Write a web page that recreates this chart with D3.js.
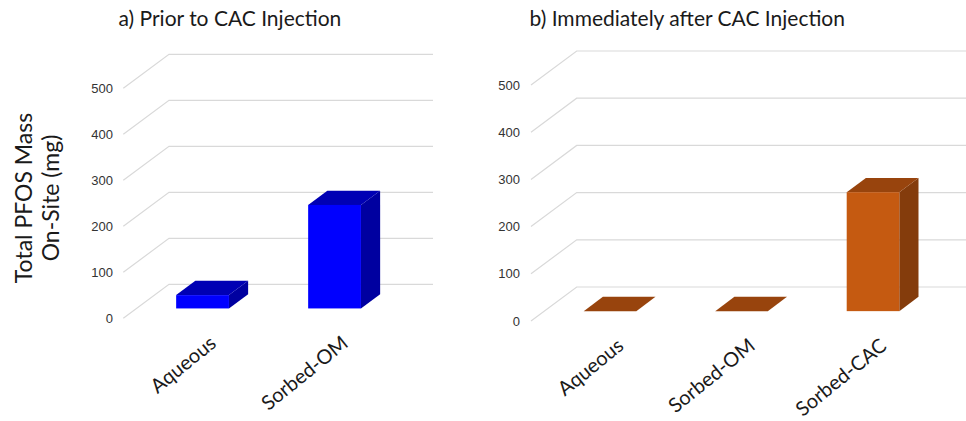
<!DOCTYPE html>
<html>
<head>
<meta charset="utf-8">
<script src="https://cdn.jsdelivr.net/npm/d3@7"></script>
<style>
  html, body { margin: 0; padding: 0; background: #fff; }
  svg { display: block; }
  .title { font-family: Lato, "Open Sans", sans-serif; fill: #1a1a1a; }
  .tick text { font-family: "Liberation Sans", Arial, sans-serif; fill: #333; }
  .cat { font-family: Lato, "Open Sans", sans-serif; fill: #1a1a1a; }
</style>
</head>
<body>
<svg id="chart" width="966" height="421"></svg>
<script>
// Total PFOS mass on site (mg), before and right after the CAC injection
const categoriesA = ["Aqueous", "Sorbed-OM"];
const valuesA = [29, 225];
const titleA = "a) Prior to CAC Injection";

const categoriesB = ["Aqueous", "Sorbed-OM", "Sorbed-CAC"];
const valuesB = [0, 0, 252];
const titleB = "b) Immediately after CAC Injection";

const yTicks = [0, 100, 200, 300, 400, 500];
const yTitleLines = ["Total PFOS Mass", "On-Site (mg)"];

const svg = d3.select("#chart");

// Perspective offset of the floor (front edge -> back wall)
const depth = { dx: 45.7, dy: -34 };
// Bars sit in the middle of the floor depth
const barDepth = [0.29, 0.71];

function panel(cfg) {
  const g = svg.append("g");
  const x = d3.scaleBand()
    .domain(cfg.categories)
    .range([0, cfg.width])
    .paddingInner(0.6)
    .paddingOuter(0.3);
  const y = d3.scaleLinear().domain([0, 500]).range([cfg.y0, cfg.y500]);

  // gridlines: side-wall diagonal + back-wall horizontal
  g.append("g").selectAll("path")
    .data(yTicks)
    .join("path")
    .attr("fill", "none")
    .attr("stroke", "#d9d9d9")
    .attr("stroke-width", 1.2)
    .attr("d", v => {
      const p = d3.path();
      p.moveTo(cfg.x0, y(v));
      p.lineTo(cfg.x0 + depth.dx, y(v) + depth.dy);
      p.lineTo(cfg.x0 + depth.dx + cfg.width, y(v) + depth.dy);
      return p.toString();
    });

  // value axis labels
  const axis = d3.axisLeft(y).tickValues(yTicks).tickSize(0).tickPadding(0);
  const ax = g.append("g")
    .attr("transform", `translate(${cfg.labelRight},0)`)
    .call(axis);
  ax.select(".domain").remove();
  ax.selectAll("text").attr("font-size", 13);

  // 3D bars
  const t1 = barDepth[0], t2 = barDepth[1];
  const ddx = (t2 - t1) * depth.dx, ddy = (t2 - t1) * depth.dy;
  const bars = g.append("g").selectAll("g")
    .data(cfg.categories.map((c, i) => ({ c, v: cfg.values[i] })))
    .join("g");

  const geom = d => {
    const xa = cfg.x0 + t1 * depth.dx + x(d.c);
    const xb = xa + x.bandwidth();
    const yb = y(0) + t1 * depth.dy;
    const yt = y(d.v) + t1 * depth.dy;
    return { xa, xb, yb, yt };
  };

  bars.append("path")
    .attr("fill", cfg.side)
    .attr("d", d => {
      const { xb, yb, yt } = geom(d);
      return `M${xb},${yt}L${xb + ddx},${yt + ddy}L${xb + ddx},${yb + ddy}L${xb},${yb}Z`;
    });
  bars.append("path")
    .attr("fill", cfg.top)
    .attr("d", d => {
      const { xa, xb, yt } = geom(d);
      return `M${xa},${yt}L${xb},${yt}L${xb + ddx},${yt + ddy}L${xa + ddx},${yt + ddy}Z`;
    });
  bars.append("rect")
    .attr("fill", cfg.front)
    .attr("x", d => geom(d).xa)
    .attr("y", d => geom(d).yt)
    .attr("width", x.bandwidth())
    .attr("height", d => geom(d).yb - geom(d).yt);

  // category labels, slanted
  g.append("g").selectAll("text")
    .data(cfg.categories)
    .join("text")
    .attr("class", "cat")
    .attr("font-size", 20)
    .attr("text-anchor", "end")
    .attr("transform", c => {
      const cx = cfg.x0 + t1 * depth.dx + x(c) + x.bandwidth() / 2 + 15;
      const cy = y(0) + t1 * depth.dy + 37;
      return `translate(${cx},${cy}) rotate(-39)`;
    })
    .text(c => c);

  // panel title
  g.append("text")
    .attr("class", "title")
    .attr("x", cfg.titleX)
    .attr("y", 26)
    .attr("font-size", 21)
    .text(cfg.title);
}

panel({
  categories: categoriesA, values: valuesA, title: titleA,
  x0: 123.3, width: 264, y0: 318.3, y500: 88.3, labelRight: 113,
  titleX: 118.5,
  front: "#0000ff", top: "#0000b4", side: "#0000a0"
});

panel({
  categories: categoriesB, values: valuesB, title: titleB,
  x0: 531, width: 394.5, y0: 321, y500: 85, labelRight: 520,
  titleX: 529.5,
  front: "#c55a11", top: "#98440d", side: "#843c0c"
});

// shared value-axis title
svg.append("text")
  .attr("class", "title")
  .attr("font-size", 23)
  .attr("text-anchor", "middle")
  .attr("transform", "translate(0,198) rotate(-90)")
  .selectAll("tspan")
  .data(yTitleLines)
  .join("tspan")
  .attr("x", 0)
  .attr("y", (d, i) => 32 + i * 27)
  .text(d => d);
</script>
</body>
</html>
